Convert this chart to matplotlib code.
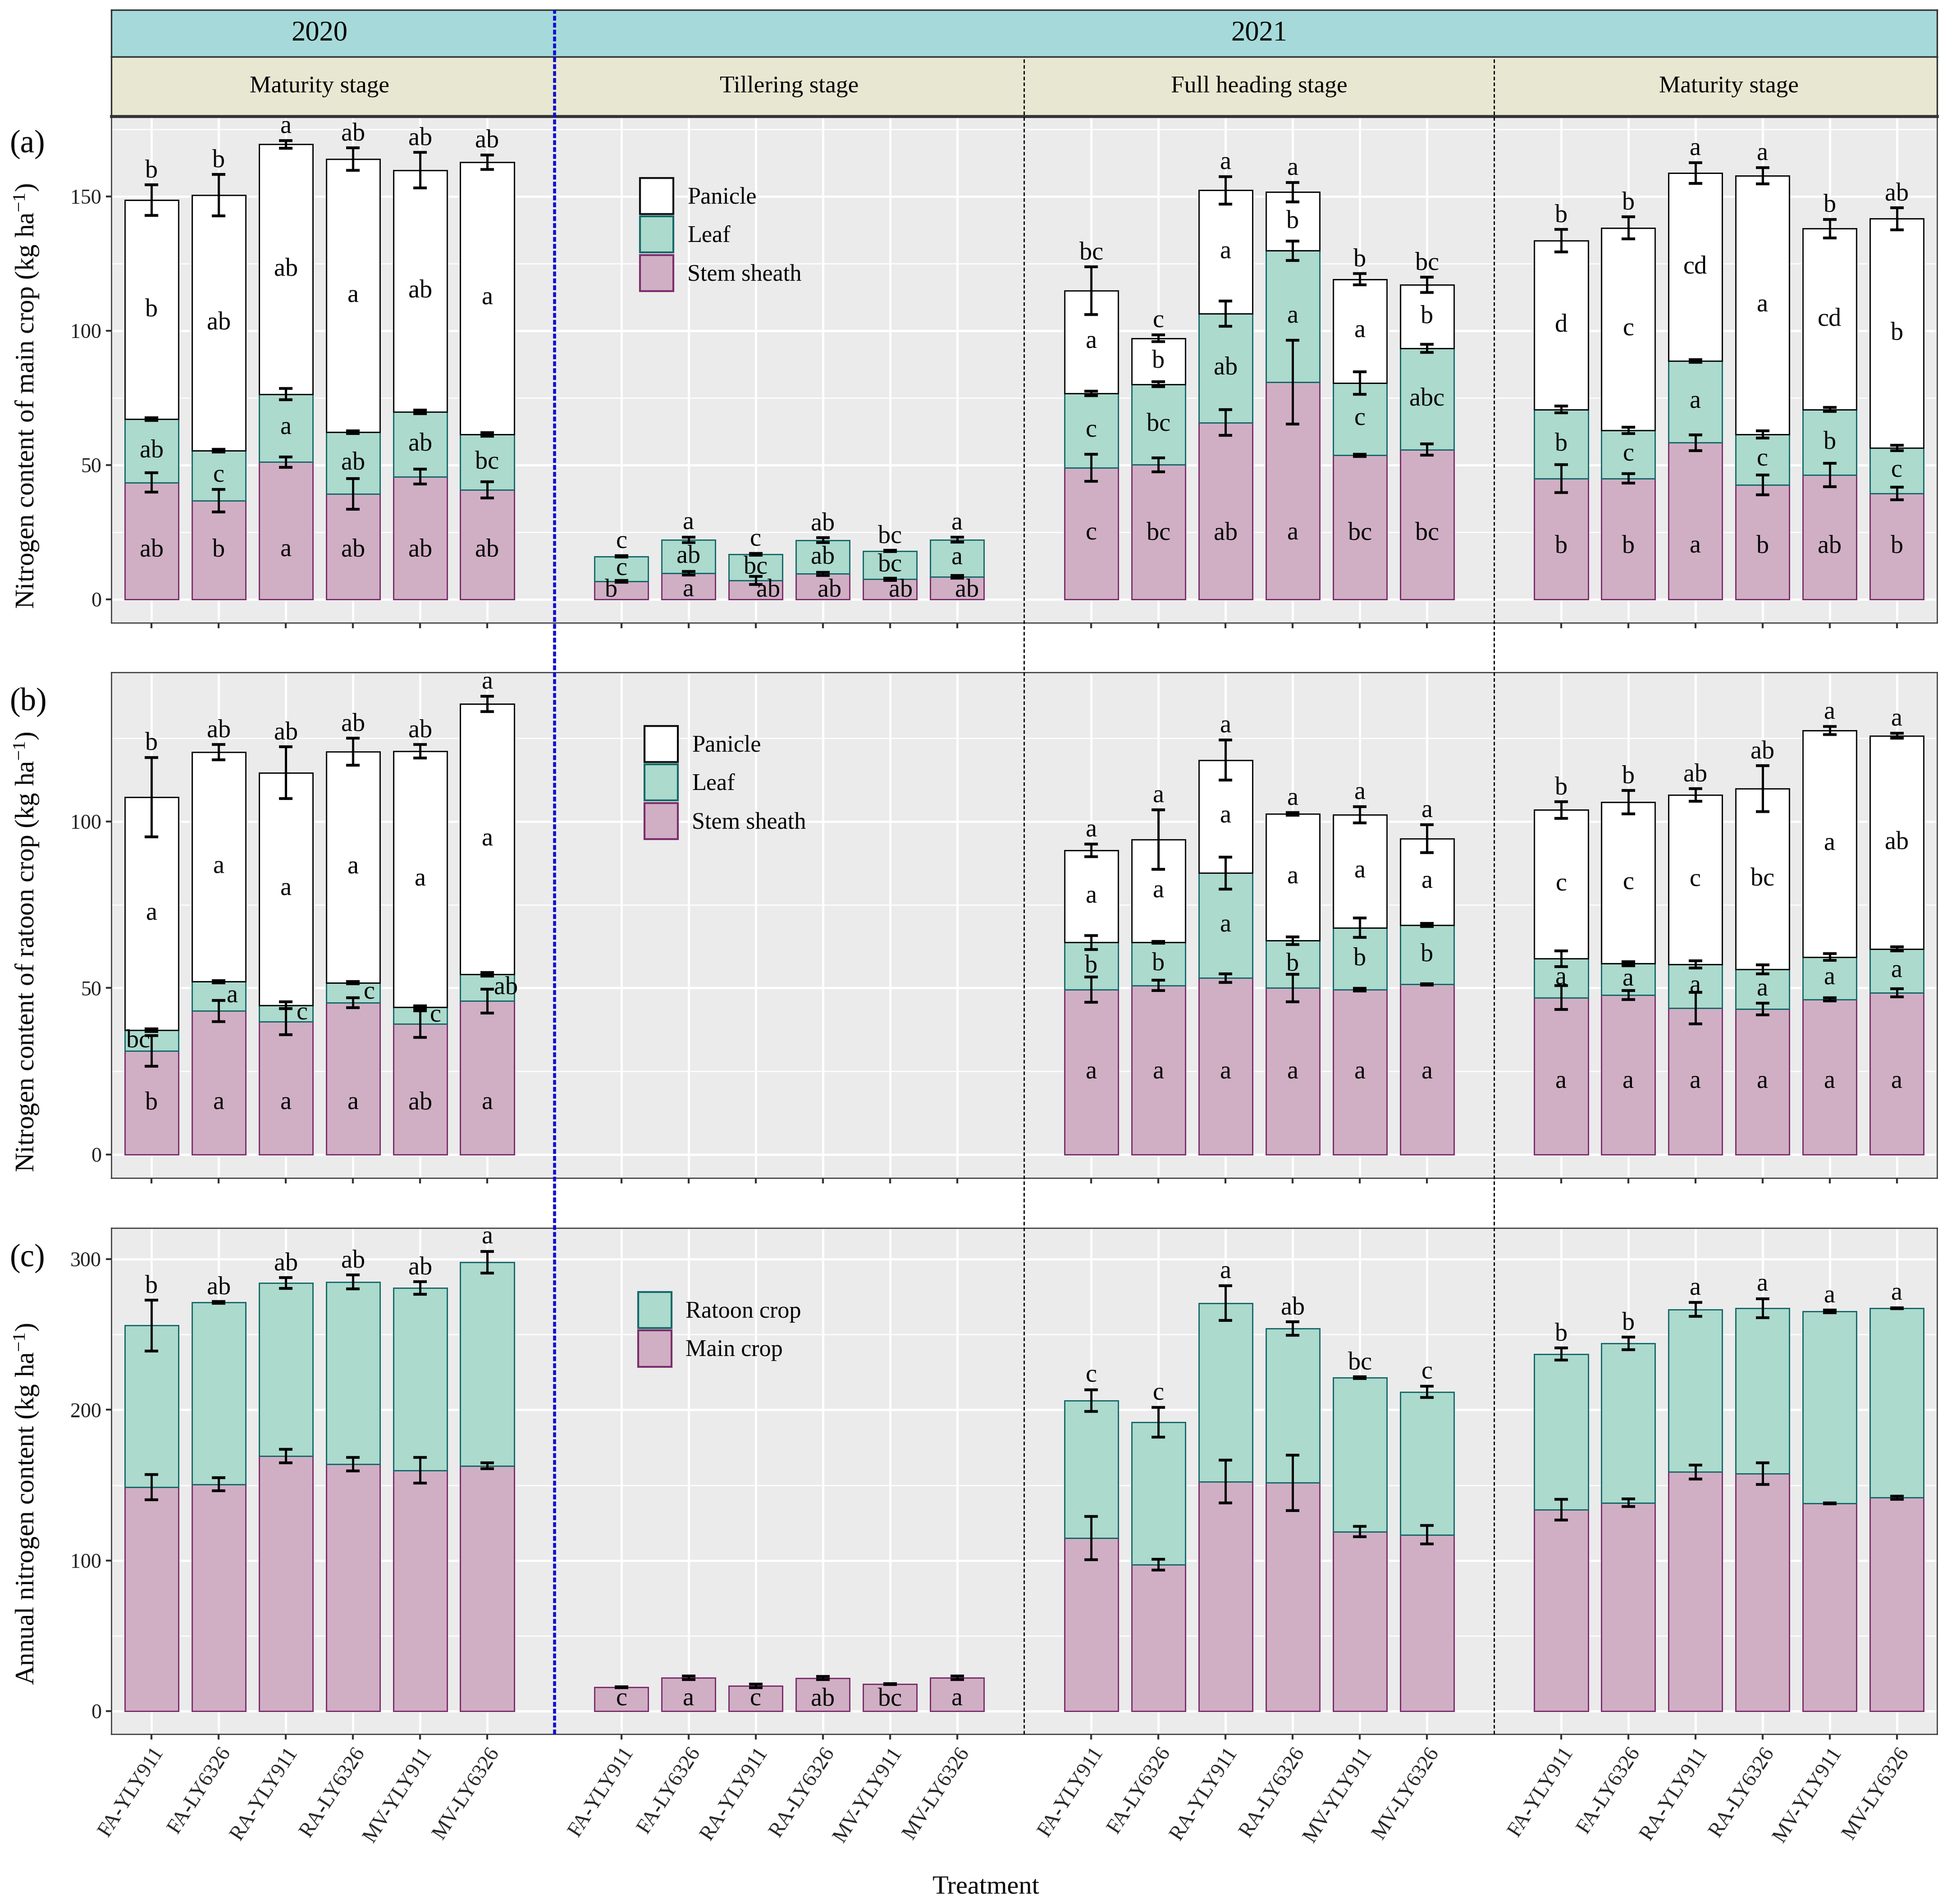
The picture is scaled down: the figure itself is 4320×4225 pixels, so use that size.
import numpy as np
import matplotlib
matplotlib.use('Agg')
import matplotlib.pyplot as plt
from matplotlib.patches import Patch
from matplotlib.lines import Line2D
from matplotlib.transforms import blended_transform_factory
from matplotlib.ticker import MultipleLocator

plt.rcParams['font.family'] = ['Liberation Serif', 'DejaVu Serif']
plt.rcParams['mathtext.fontset'] = 'custom'
plt.rcParams['mathtext.rm'] = 'Liberation Serif'
plt.rcParams['mathtext.it'] = 'Liberation Serif:italic'
plt.rcParams['mathtext.bf'] = 'Liberation Serif:bold'

#--categories
treatments = ['FA-YLY911', 'FA-LY6326', 'RA-YLY911', 'RA-LY6326', 'MV-YLY911', 'MV-LY6326']
stages = ['Maturity stage', 'Tillering stage', 'Full heading stage', 'Maturity stage']
years = ['2020', '2021']

NA = np.nan

#--(a) main crop, one row per stage (2020 maturity, 2021 tillering, full heading, maturity)
main_stem = [[43.5, 36.8, 51.1, 39.3, 45.7, 40.8],
             [6.7, 9.7, 7.0, 9.5, 7.5, 8.4],
             [49.0, 50.1, 65.8, 80.9, 53.6, 55.7],
             [45.0, 45.0, 58.3, 42.6, 46.3, 39.4]]
main_stem_se = [[3.6, 4.2, 1.9, 5.7, 2.7, 3.0],
                [0.3, 0.7, 1.5, 0.6, 0.4, 0.5],
                [5.0, 2.6, 4.8, 15.6, 0.4, 2.1],
                [5.2, 1.8, 3.0, 3.7, 4.4, 2.3]]
main_leaf = [[23.6, 18.5, 25.3, 22.9, 24.1, 20.6],
             [9.3, 12.5, 9.8, 12.5, 10.5, 13.8],
             [27.7, 30.0, 40.6, 48.9, 27.0, 37.7],
             [25.7, 17.9, 30.5, 18.8, 24.4, 16.9]]
main_leaf_se = [[0.5, 0.5, 2.1, 0.5, 0.7, 0.7],
                [0.3, 1.0, 0.3, 0.9, 0.2, 0.9],
                [0.8, 1.0, 4.7, 3.6, 4.2, 1.5],
                [1.2, 1.2, 0.5, 1.4, 0.8, 1.0]]
main_panicle = [[81.5, 95.2, 93.0, 101.7, 90.0, 101.4],
                [NA, NA, NA, NA, NA, NA],
                [38.2, 17.1, 45.9, 21.8, 38.6, 23.7],
                [62.9, 75.4, 69.9, 96.3, 67.3, 85.4]]
main_panicle_se = [[5.7, 7.7, 1.4, 4.2, 6.6, 2.7],
                   [NA, NA, NA, NA, NA, NA],
                   [8.9, 1.3, 5.1, 3.6, 2.1, 2.8],
                   [4.2, 4.1, 3.9, 3.0, 3.5, 4.1]]
main_let_total = [['b', 'b', 'a', 'ab', 'ab', 'ab'],
                  ['c', 'a', 'c', 'ab', 'bc', 'a'],
                  ['bc', 'c', 'a', 'a', 'b', 'bc'],
                  ['b', 'b', 'a', 'a', 'b', 'ab']]
main_let_panicle = [['b', 'ab', 'ab', 'a', 'ab', 'a'],
                    ['', '', '', '', '', ''],
                    ['a', 'b', 'a', 'b', 'a', 'b'],
                    ['d', 'c', 'cd', 'a', 'cd', 'b']]
main_let_leaf = [['ab', 'c', 'a', 'ab', 'ab', 'bc'],
                 ['c', 'ab', 'bc', 'ab', 'bc', 'a'],
                 ['c', 'bc', 'ab', 'a', 'c', 'abc'],
                 ['b', 'c', 'a', 'c', 'b', 'c']]
main_let_stem = [['ab', 'b', 'a', 'ab', 'ab', 'ab'],
                 ['b', 'a', 'ab', 'ab', 'ab', 'ab'],
                 ['c', 'bc', 'ab', 'a', 'bc', 'bc'],
                 ['b', 'b', 'a', 'b', 'ab', 'b']]

#--(b) ratoon crop (no ratoon at tillering)
rat_stem = [[31.1, 43.1, 39.9, 45.6, 39.2, 46.1],
            [NA, NA, NA, NA, NA, NA],
            [49.5, 50.8, 53.0, 50.0, 49.5, 51.1],
            [47.1, 47.9, 44.0, 43.7, 46.6, 48.6]]
rat_stem_se = [[4.6, 3.2, 3.9, 1.5, 4.0, 3.6],
               [NA, NA, NA, NA, NA, NA],
               [3.8, 1.5, 1.3, 4.1, 0.4, 0.2],
               [3.6, 1.4, 4.7, 1.8, 0.5, 1.2]]
rat_leaf = [[6.2, 8.8, 4.9, 6.0, 5.0, 8.0],
            [NA, NA, NA, NA, NA, NA],
            [14.2, 12.9, 31.5, 14.2, 18.6, 17.8],
            [11.7, 9.4, 13.1, 11.9, 12.7, 13.1]]
rat_leaf_se = [[0.4, 0.3, 1.0, 0.3, 0.5, 0.5],
               [NA, NA, NA, NA, NA, NA],
               [2.1, 0.3, 4.8, 1.2, 2.9, 0.5],
               [2.4, 0.6, 1.1, 1.3, 1.0, 0.6]]
rat_panicle = [[70.0, 68.9, 69.8, 69.3, 76.8, 81.1],
               [NA, NA, NA, NA, NA, NA],
               [27.6, 30.8, 33.9, 38.0, 33.9, 25.9],
               [44.6, 48.5, 50.8, 54.2, 68.0, 64.0]]
rat_panicle_se = [[11.9, 2.3, 7.8, 4.0, 2.0, 2.3],
                  [NA, NA, NA, NA, NA, NA],
                  [1.9, 8.9, 6.0, 0.4, 2.4, 4.2],
                  [2.5, 3.5, 1.9, 6.9, 1.2, 0.7]]
rat_let_total = [['b', 'ab', 'ab', 'ab', 'ab', 'a'],
                 ['', '', '', '', '', ''],
                 ['a', 'a', 'a', 'a', 'a', 'a'],
                 ['b', 'b', 'ab', 'ab', 'a', 'a']]
rat_let_panicle = [['a', 'a', 'a', 'a', 'a', 'a'],
                   ['', '', '', '', '', ''],
                   ['a', 'a', 'a', 'a', 'a', 'a'],
                   ['c', 'c', 'c', 'bc', 'a', 'ab']]
rat_let_leaf = [['bc', 'a', 'c', 'c', 'c', 'ab'],
                ['', '', '', '', '', ''],
                ['b', 'b', 'a', 'b', 'b', 'b'],
                ['a', 'a', 'a', 'a', 'a', 'a']]
rat_let_stem = [['b', 'a', 'a', 'a', 'ab', 'a'],
                ['', '', '', '', '', ''],
                ['a', 'a', 'a', 'a', 'a', 'a'],
                ['a', 'a', 'a', 'a', 'a', 'a']]

#--(c) annual: main crop = (a) total, ratoon crop = (b) total
annual_main_se = [[8.3, 4.3, 4.5, 4.5, 8.5, 2.0],
                  [0.3, 1.2, 1.2, 1.0, 0.4, 1.3],
                  [14.4, 3.6, 14.2, 18.4, 3.3, 6.2],
                  [6.9, 2.6, 4.6, 7.2, 0.3, 1.0]]
annual_total_se = [[16.9, 0.5, 3.6, 4.6, 4.3, 7.2],
                   [NA, NA, NA, NA, NA, NA],
                   [7.2, 9.8, 11.5, 4.5, 0.6, 3.6],
                   [4.0, 4.2, 4.7, 6.3, 0.8, 0.4]]
annual_let = [['b', 'ab', 'ab', 'ab', 'ab', 'a'],
              ['c', 'a', 'c', 'ab', 'bc', 'a'],
              ['c', 'c', 'a', 'ab', 'bc', 'c'],
              ['b', 'b', 'a', 'a', 'a', 'a']]

#--small sideways shifts of letters that sit on thin segments
leaf_nudge_b = [[-0.2, 0.2, 0.24, 0.24, 0.23, 0.28], [0] * 6, [0] * 6, [0] * 6]
stem_nudge_a = [[0] * 6, [-0.15, 0.0, 0.19, 0.1, 0.16, 0.15], [0] * 6, [0] * 6]

#--colours
PINK, PINK_E = '#d0afc4', '#7b2d6b'
TEAL, TEAL_E = '#acdacd', '#16696a'
WHITE, WHITE_E = '#ffffff', '#000000'

LET = 13.5  # letter size

x = np.array([g * 7 + i + 1 for g in range(4) for i in range(6)], dtype=float)


def flat(lst):
    return np.array([v for grp in lst for v in grp], dtype=float)


def flat_s(lst):
    return [v for grp in lst for v in grp]


W, H = 4320, 4225
fig = plt.figure(figsize=(W / 300, H / 300), dpi=300)
L, R = 247 / W, 4298 / W


def fax(top_px, bot_px):
    return fig.add_axes([L, 1 - bot_px / H, R - L, (bot_px - top_px) / H])


ax_a = fax(259, 1382)
ax_b = fax(1492, 2614)
ax_c = fax(2725, 3848)
st_year = fax(22, 126)
st_stage = fax(126, 258)


def style(ax, ylim, major, minor, labels):
    ax.set_facecolor('#ebebeb')
    ax.set_xlim(0.4, 27.6)
    ax.set_ylim(*ylim)
    ax.set_xticks(x)
    ax.yaxis.set_major_locator(MultipleLocator(major))
    ax.yaxis.set_minor_locator(MultipleLocator(minor))
    ax.grid(which='major', color='white', lw=1.2)
    ax.grid(which='minor', axis='y', color='white', lw=0.6)
    ax.set_axisbelow(True)
    ax.tick_params(which='minor', length=0)
    ax.tick_params(which='major', length=2.8, width=1.0, color='#333333',
                   labelsize=11, pad=2.5, labelcolor='#222222')
    if labels:
        ax.set_xticklabels(treatments * 4, rotation=57, ha='right', va='top',
                           rotation_mode='anchor', fontsize=11)
    else:
        ax.set_xticklabels([])
    for s in ax.spines.values():
        s.set_color('#333333')
        s.set_linewidth(0.6)


style(ax_a, (-8.75, 179.7), 50, 25, False)
style(ax_b, (-7.0, 144.7), 50, 25, False)
style(ax_c, (-15.2, 320.6), 100, 50, True)


def draw_stack(ax, layers, ses, cols, let_layers, stem_nudge=None, leaf_nudge=None):
    bottom = np.zeros(len(x))
    tops, errs = [], []
    for vals, se, (fc, ec) in zip(layers, ses, cols):
        v = flat(vals)
        ok = ~np.isnan(v)
        ax.bar(x[ok], v[ok], 0.8, bottom=bottom[ok], color=fc, edgecolor=ec,
               linewidth=0.7, zorder=2)
        top = bottom + np.nan_to_num(v)
        tops.append((bottom.copy(), top.copy(), ok))
        errs.append(flat(se))
        bottom = top
    for (b0, t, ok), e in zip(tops, errs):
        m = ok & ~np.isnan(e)
        ax.errorbar(x[m], t[m], yerr=e[m], fmt='none', ecolor='black',
                    elinewidth=1.2, capsize=3.6, capthick=1.5, zorder=4)
    # letters inside the segments
    for k, lets in enumerate(let_layers):
        b0, t, ok = tops[k]
        lets = flat_s(lets)
        for i in range(len(x)):
            if not ok[i] or lets[i] == '':
                continue
            g = i // 6
            dx = 0
            if k == 0:
                grp = flat(layers[0])[g * 6:(g + 1) * 6]
                y = np.nanmin(grp) / 2
                if stem_nudge is not None:
                    dx = flat(stem_nudge)[i]
            else:
                y = (b0[i] + t[i]) / 2
                if k == 1 and leaf_nudge is not None:
                    dx = flat(leaf_nudge)[i]
            ax.text(x[i] + dx, y, lets[i], ha='center', va='center', fontsize=LET, zorder=5)
    return tops, errs


def top_letters(ax, tops, errs, lets):
    lets = flat_s(lets)
    for i in range(len(x)):
        if lets[i] == '':
            continue
        y = None
        for (b0, t, ok), e in zip(tops, errs):
            if ok[i]:
                y = t[i] + (0 if np.isnan(e[i]) else e[i])
        if y is None:
            continue
        ax.annotate(lets[i], (x[i], y), xytext=(0, 4), textcoords='offset points',
                    ha='center', va='baseline', fontsize=LET, zorder=5)


cols3 = [(PINK, PINK_E), (TEAL, TEAL_E), (WHITE, WHITE_E)]

#--(a)
tops, errs = draw_stack(ax_a, [main_stem, main_leaf, main_panicle],
                        [main_stem_se, main_leaf_se, main_panicle_se], cols3,
                        [main_let_stem, main_let_leaf, main_let_panicle],
                        stem_nudge=stem_nudge_a)
top_letters(ax_a, tops, errs, main_let_total)

#--(b)
tops, errs = draw_stack(ax_b, [rat_stem, rat_leaf, rat_panicle],
                        [rat_stem_se, rat_leaf_se, rat_panicle_se], cols3,
                        [rat_let_stem, rat_let_leaf, rat_let_panicle],
                        leaf_nudge=leaf_nudge_b)
top_letters(ax_b, tops, errs, rat_let_total)

#--(c)
main_total = flat(main_stem) + flat(main_leaf) + np.nan_to_num(flat(main_panicle))
rat_total = flat(rat_stem) + flat(rat_leaf) + flat(rat_panicle)
ax_c.bar(x, main_total, 0.8, color=PINK, edgecolor=PINK_E, linewidth=0.7, zorder=2)
okr = ~np.isnan(rat_total)
ax_c.bar(x[okr], rat_total[okr], 0.8, bottom=main_total[okr], color=TEAL,
         edgecolor=TEAL_E, linewidth=0.7, zorder=2)
ax_c.errorbar(x, main_total, yerr=flat(annual_main_se), fmt='none', ecolor='black',
              elinewidth=1.2, capsize=3.6, capthick=1.5, zorder=4)
ann_top = main_total + np.nan_to_num(rat_total)
tse = flat(annual_total_se)
ax_c.errorbar(x[okr], ann_top[okr], yerr=tse[okr], fmt='none', ecolor='black',
              elinewidth=1.2, capsize=3.6, capthick=1.5, zorder=4)
alets = flat_s(annual_let)
for i in range(len(x)):
    if okr[i]:
        ax_c.annotate(alets[i], (x[i], ann_top[i] + tse[i]), xytext=(0, 4),
                      textcoords='offset points', ha='center', va='baseline',
                      fontsize=LET, zorder=5)
    else:
        g = i // 6
        y = np.min(main_total[g * 6:(g + 1) * 6]) / 2
        ax_c.text(x[i], y, alets[i], ha='center', va='center', fontsize=LET, zorder=5)


#--legends
def legend(ax, names, cols, anchor):
    h = [Patch(facecolor=fc, edgecolor=ec, linewidth=1.0) for fc, ec in cols]
    ax.legend(h, names, loc='upper left', bbox_to_anchor=anchor, frameon=False,
              fontsize=12.5, handlelength=1.42, handleheight=1.99, labelspacing=0.1,
              handletextpad=0.6, borderpad=0, borderaxespad=0)


legend(ax_a, ['Panicle', 'Leaf', 'Stem sheath'], [(WHITE, WHITE_E), (TEAL, TEAL_E), (PINK, PINK_E)],
       (0.2896, 0.879))
legend(ax_b, ['Panicle', 'Leaf', 'Stem sheath'], [(WHITE, WHITE_E), (TEAL, TEAL_E), (PINK, PINK_E)],
       (0.292, 0.894))
legend(ax_c, ['Ratoon crop', 'Main crop'], [(TEAL, TEAL_E), (PINK, PINK_E)], (0.2886, 0.8735))

#--strips
for st, col in ((st_year, '#a6dada'), (st_stage, '#e8e8d2')):
    st.set_facecolor(col)
    st.set_xlim(0.4, 27.6)
    st.set_ylim(0, 1)
    st.set_xticks([])
    st.set_yticks([])
    for s in st.spines.values():
        s.set_color('#333333')
        s.set_linewidth(0.8)
st_stage.spines['bottom'].set_linewidth(1.6)
st_year.text(3.5, 0.5, years[0], ha='center', va='center', fontsize=15)
st_year.text(17.5, 0.5, years[1], ha='center', va='center', fontsize=15)
for g, name in enumerate(stages):
    st_stage.text(g * 7 + 3.5, 0.5, name, ha='center', va='center', fontsize=12.8)

#--separators between stages
tr = blended_transform_factory(ax_c.transData, fig.transFigure)
fig.add_artist(Line2D([7, 7], [1 - 3848 / H, 1 - 22 / H], transform=tr, color='#1010d0',
                      lw=1.6, linestyle=(0, (1.6, 0.7)), zorder=10))
for xs in (14, 21):
    fig.add_artist(Line2D([xs, xs], [1 - 3848 / H, 1 - 126 / H], transform=tr, color='black',
                          lw=0.7, linestyle=(0, (2.7, 1.7)), zorder=10))

#--axis titles and panel tags
fig.text(0.0137, 1 - 878 / H, 'Nitrogen content of main crop (kg ha$^{-1}$)',
         rotation=90, ha='center', va='center', fontsize=14.2)
fig.text(0.0137, 1 - 2112 / H, 'Nitrogen content of ratoon crop (kg ha$^{-1}$)',
         rotation=90, ha='center', va='center', fontsize=14.2)
fig.text(0.0137, 1 - 3337 / H, 'Annual nitrogen content (kg ha$^{-1}$)',
         rotation=90, ha='center', va='center', fontsize=14.2)
fig.text(0.005, 1 - 320 / H, '(a)', ha='left', va='center', fontsize=17)
fig.text(0.005, 1 - 1558 / H, '(b)', ha='left', va='center', fontsize=17)
fig.text(0.005, 1 - 2792 / H, '(c)', ha='left', va='center', fontsize=17)
fig.text(794 / 1568, 1 - 4188 / H, 'Treatment', ha='center', va='center', fontsize=14)

fig.savefig('out.png', dpi=300, facecolor='white')
